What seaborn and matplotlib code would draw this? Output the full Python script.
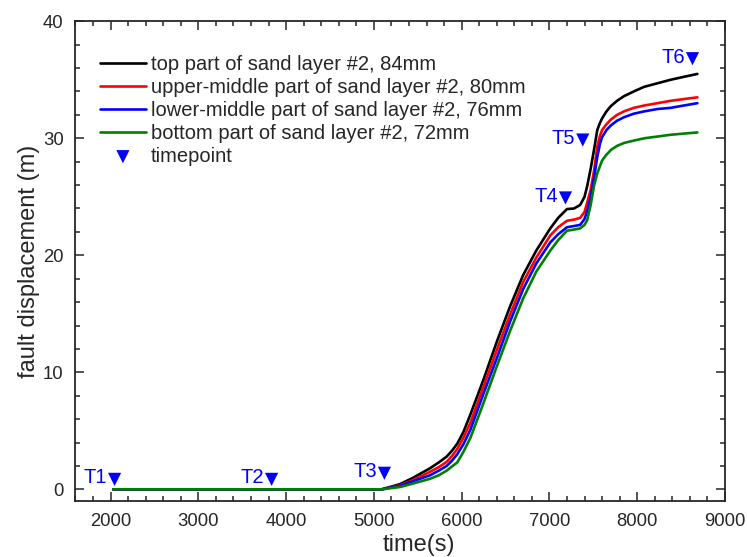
import seaborn as sns
import matplotlib.pyplot as plt
import pandas as pd
from matplotlib.ticker import MultipleLocator

# Data
time_s = [2030, 5000, 5090, 5300, 5450, 5640, 5740, 5830, 5890, 5950, 6020, 6100,
          6250, 6400, 6550, 6700, 6850, 7010, 7100, 7200, 7280, 7350, 7400, 7430,
          7470, 7510, 7545, 7575, 7600, 7650, 7700, 7770, 7850, 7960, 8080, 8230,
          8380, 8530, 8686]

top_84 = [0, 0, 0, 0.45, 1.0, 1.8, 2.3, 2.8, 3.3, 3.9, 4.9, 6.4,
          9.4, 12.6, 15.6, 18.3, 20.4, 22.3, 23.2, 23.95, 24.0, 24.3, 25.0, 25.9,
          27.4, 29.1, 30.7, 31.3, 31.7, 32.3, 32.75, 33.2, 33.6, 34.0, 34.4, 34.7,
          35.0, 35.25, 35.5]
upper_mid_80 = [0, 0, 0, 0.35, 0.8, 1.5, 1.9, 2.35, 2.85, 3.45, 4.4, 5.7,
                8.8, 11.9, 14.9, 17.7, 19.8, 21.7, 22.4, 22.95, 23.05, 23.2, 23.7, 24.5,
                25.6, 27.3, 29.3, 30.2, 30.7, 31.2, 31.6, 32.0, 32.3, 32.6, 32.8, 33.0,
                33.2, 33.35, 33.5]
lower_mid_76 = [0, 0, 0, 0.3, 0.7, 1.2, 1.6, 2.0, 2.45, 3.0, 3.85, 5.1,
                8.2, 11.2, 14.3, 17.1, 19.3, 21.1, 21.8, 22.4, 22.5, 22.6, 23.1, 23.8,
                25.0, 26.7, 28.4, 29.5, 30.1, 30.7, 31.1, 31.5, 31.8, 32.1, 32.3, 32.5,
                32.6, 32.8, 33.0]
bottom_72 = [0, 0, 0, 0.2, 0.5, 0.9, 1.2, 1.6, 1.95, 2.3, 3.2, 4.4,
             7.4, 10.5, 13.5, 16.3, 18.6, 20.4, 21.3, 22.1, 22.2, 22.3, 22.6, 23.0,
             24.3, 26.0, 27.0, 27.6, 28.1, 28.6, 29.0, 29.35, 29.6, 29.8, 30.0, 30.15,
             30.3, 30.4, 30.5]

series_names = ['top part of sand layer #2, 84mm',
                'upper-middle part of sand layer #2, 80mm',
                'lower-middle part of sand layer #2, 76mm',
                'bottom part of sand layer #2, 72mm']
series_colors = ['black', 'red', 'blue', 'green']

tp_labels = ['T1', 'T2', 'T3', 'T4', 'T5', 'T6']
tp_time = [2046, 3835, 5120, 7183, 7380, 8630]
tp_disp = [0.85, 0.85, 1.37, 24.9, 29.85, 36.8]

# Long-form table for seaborn
frames = []
for name, vals in zip(series_names, [top_84, upper_mid_80, lower_mid_76, bottom_72]):
    frames.append(pd.DataFrame({'time': time_s, 'disp': vals, 'layer': name}))
df = pd.concat(frames, ignore_index=True)
tp = pd.DataFrame({'time': tp_time, 'disp': tp_disp, 'label': tp_labels})

sns.set_style('ticks')
plt.rcParams['font.family'] = ['Liberation Sans', 'DejaVu Sans']

fig = plt.figure(figsize=(7.47, 5.57), dpi=100)
ax = fig.add_axes([0.101, 0.1005, 0.8695, 0.8613])

sns.lineplot(data=df, x='time', y='disp', hue='layer', palette=series_colors,
             hue_order=series_names, sort=False, estimator=None, linewidth=1.9, ax=ax)
sns.scatterplot(data=tp, x='time', y='disp', marker='v', s=90, color='blue',
                edgecolor='none', label='timepoint', ax=ax, zorder=5)

for _, r in tp.iterrows():
    ax.annotate(r['label'], (r['time'], r['disp']), xytext=(-5.5, 1),
                textcoords='offset points', ha='right', va='center',
                color='blue', fontsize=14.5)

ax.set_xlim(1600, 9000)
ax.set_ylim(-1, 40)
ax.xaxis.set_major_locator(MultipleLocator(1000))
ax.xaxis.set_minor_locator(MultipleLocator(200))
ax.yaxis.set_major_locator(MultipleLocator(10))
ax.yaxis.set_minor_locator(MultipleLocator(2))
ax.tick_params(which='both', direction='in', top=True, right=True, width=1.1,
               labelsize=13.3, pad=8.5)
ax.tick_params(which='major', length=6.5)
ax.tick_params(which='minor', length=3.5)
for sp in ax.spines.values():
    sp.set_linewidth(1.3)

ax.set_xlabel('time(s)', fontsize=17)
ax.xaxis.set_label_coords(0.5295, -0.069)
ax.set_ylabel('fault displacement (m)', fontsize=17, labelpad=2)

ax.legend(loc='upper left', frameon=False, fontsize=14.5, handlelength=2.3,
          handletextpad=0.25, labelspacing=0.2, borderpad=0, borderaxespad=0,
          bbox_to_anchor=(0.0374, 0.93))

fig.savefig('out.png', dpi=100)
